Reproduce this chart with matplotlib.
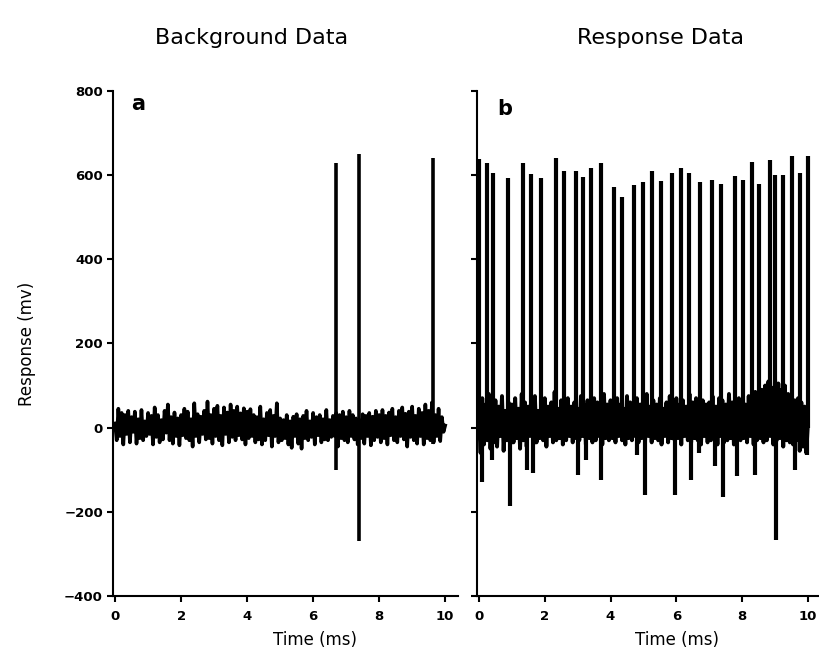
import numpy as np
import matplotlib.pyplot as plt

plt.rc("font", family="DejaVu Sans")

# sample times of the noise traces (ms)
t_noise = np.arange(201) * 0.05

# background trace, panel a (mv)
bg_noise = [
    10, -30, 45, -20, 35, -40, 30, -15, 40, -35, 25, -10, 38, -38, 20, -25, 42, -30, 15, -20,
    35, -15, 28, -40, 48, -22, 30, -35, 18, -28, 40, -12, 55, -30, 25, -38, 36, -20, 22, -42,
    30, -18, 45, -25, 38, -30, 20, -45, 58, -20, 32, -35, 26, -15, 40, -28, 62, -25, 30, -38,
    45, -20, 52, -30, 28, -42, 48, -15, 36, -35, 55, -22, 40, -30, 50, -18, 34, -28, 46, -40,
    38, -25, 44, -20, 30, -35, 25, -28, 50, -40, 20, -30, 35, -18, 42, -45, 28, -20, 58, -35,
    22, -30, 18, -25, 30, -40, 15, -48, 26, -20, 32, -38, 20, -50, 28, -25, 40, -30, 15, -22,
    35, -40, 25, -18, 30, -35, 20, -28, 42, -30, 18, -22, 28, -20, 35, -45, 30, -25, 38, -30,
    25, -35, 40, -20, 30, -28, 22, -40, 18, -25, 32, -38, 28, -20, 35, -42, 26, -30, 40, -22,
    30, -35, 42, -25, 28, -40, 36, -18, 45, -30, 25, -35, 40, -20, 48, -28, 33, -45, 38, -22,
    50, -30, 28, -38, 45, -20, 35, -40, 55, -25, 40, -30, 60, -35, 30, -20, 45, -32, 25, -10,
    5,
]
bg_spike_t = [6.68, 7.38, 9.62]
bg_spike_peak = [630, 650, 640]
bg_spike_trough = [-100, -270, -40]

# response trace, panel b (mv)
resp_noise = [
    20, -60, 70, -40, 55, -30, 80, -50, 45, -35, 65, -45, 50, -20, 75, -55, 40, -30, 60, -40,
    55, -35, 70, -25, 45, -50, 80, -30, 60, -45, 50, -20, 65, -40, 75, -35, 40, -25, 55, -30,
    70, -45, 50, -20, 60, -35, 85, -30, 45, -25, 65, -40, 55, -30, 70, -20, 50, -35, 60, -25,
    45, -30, 75, -20, 55, -40, 65, -25, 50, -35, 70, -30, 60, -20, 45, -40, 80, -25, 55, -30,
    65, -25, 50, -35, 70, -20, 55, -30, 45, -40, 75, -25, 60, -30, 50, -20, 70, -35, 55, -25,
    60, -30, 80, -20, 50, -35, 65, -25, 55, -30, 70, -40, 45, -20, 60, -35, 75, -25, 50, -30,
    70, -25, 55, -40, 65, -20, 50, -30, 80, -35, 60, -25, 70, -30, 45, -40, 65, -20, 55, -35,
    60, -30, 75, -25, 50, -40, 70, -20, 65, -35, 55, -30, 80, -25, 60, -40, 50, -20, 70, -30,
    65, -25, 55, -35, 75, -20, 60, -40, 85, -30, 70, -25, 90, -35, 100, -30, 110, -20, 95, -40,
    120, -30, 105, -25, 90, -45, 100, -30, 80, -35, 75, -40, 65, -30, 70, -55, 60, -45, 50, -60,
    10,
]
resp_spike_t = [
    0.00, 0.23, 0.43, 0.89, 1.35, 1.57, 1.88, 2.33, 2.57, 2.94, 3.17, 3.40,
    3.71, 4.10, 4.35, 4.71, 4.98, 5.27, 5.52, 5.88, 6.14, 6.40, 6.71, 7.08,
    7.35, 7.78, 8.02, 8.31, 8.52, 8.84, 9.01, 9.23, 9.51, 9.75, 9.99,
]
resp_spike_peak = [
    638, 629, 606, 593, 630, 602, 593, 640, 610, 609, 596, 618,
    629, 573, 547, 577, 584, 610, 586, 604, 618, 604, 583, 589,
    579, 598, 588, 632, 579, 636, 601, 601, 645, 606, 646,
]
resp_trough_t = [
    0.08, 0.39, 0.94, 1.45, 1.63, 3.02, 3.25, 3.70, 4.79, 5.05,
    5.96, 6.46, 6.70, 7.17, 7.43, 7.83, 8.39, 9.03, 9.60, 9.96,
]
resp_trough = [
    -128, -76, -187, -100, -108, -112, -76, -124, -64, -160,
    -160, -124, -60, -92, -164, -116, -112, -267, -100, -64,
]

fig = plt.figure(figsize=(8.2, 6.49), dpi=100)
ax1 = fig.add_axes([0.1383, 0.0817, 0.4207, 0.7781])
ax2 = fig.add_axes([0.5817, 0.0817, 0.4156, 0.7781])

ax1.plot(t_noise, bg_noise, color="black", lw=2.6)
ax1.vlines(bg_spike_t, 0, bg_spike_peak, color="black", lw=2.6)
ax1.vlines(bg_spike_t, bg_spike_trough, 0, color="black", lw=2.6)

ax2.plot(t_noise, resp_noise, color="black", lw=2.8)
ax2.vlines(resp_spike_t, 0, resp_spike_peak, color="black", lw=3.0)
ax2.vlines(resp_trough_t, resp_trough, 0, color="black", lw=3.0)

for ax, lo, hi in [(ax1, -0.05, 10.4), (ax2, -0.06, 10.3)]:
    ax.set_xlim(lo, hi)
    ax.set_ylim(-400, 800)
    ax.set_xticks([0, 2, 4, 6, 8, 10])
    ax.set_yticks([-400, -200, 0, 200, 400, 600, 800])
    ax.spines["top"].set_visible(False)
    ax.spines["right"].set_visible(False)
    ax.spines["left"].set_linewidth(1.5)
    ax.spines["bottom"].set_linewidth(1.5)
    ax.tick_params(direction="out", length=4, width=1.5, labelsize=9.5)
    ax.tick_params(axis="x", pad=6)
    for lab in ax.get_xticklabels() + ax.get_yticklabels():
        lab.set_fontweight("bold")
    ax.set_xlabel("Time (ms)", fontsize=12)

ax1.xaxis.set_label_coords(0.584, -0.07)
ax2.xaxis.set_label_coords(0.587, -0.07)
ax2.set_yticklabels([])
ax1.set_ylabel("Response (mv)", fontsize=12)
ax1.yaxis.set_label_coords(-0.225, 0.5)

ax1.text(0.05, 0.975, "a", transform=ax1.transAxes, fontsize=15,
         fontweight="bold", va="center")
ax2.text(0.06, 0.965, "b", transform=ax2.transAxes, fontsize=15,
         fontweight="bold", va="center")

fig.text(0.307, 0.941, "Background Data", fontsize=16, ha="center", va="center")
fig.text(0.805, 0.941, "Response Data", fontsize=16, ha="center", va="center")

fig.savefig("out.png", dpi=100)
